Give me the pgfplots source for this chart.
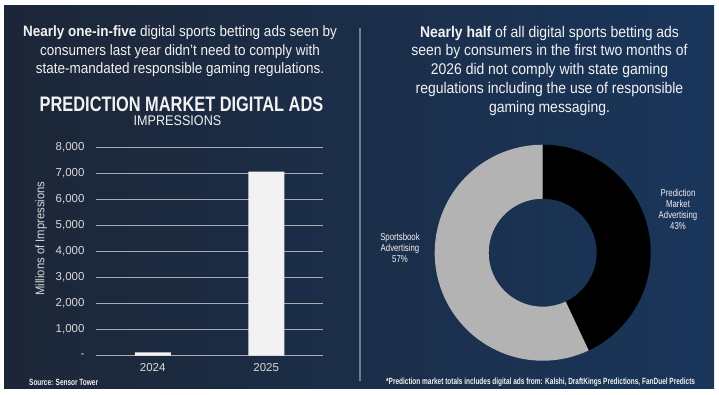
\documentclass[border=0pt]{standalone}
\usepackage{pgfplots}
\pgfplotsset{compat=1.18}
\usepackage{pgfplotstable}
\usepackage{fontspec}
\setmainfont{Liberation Sans}
\newfontfamily\bodyf[FakeStretch=0.9]{Liberation Sans}
\newfontfamily\condf[FakeStretch=0.78]{Liberation Sans}
\newfontfamily\footf[FakeStretch=0.72]{Liberation Sans}

\definecolor{bgL}{HTML}{1C2637}
\definecolor{bgR}{HTML}{1A365B}
\definecolor{txt}{HTML}{F2F2F2}
\definecolor{tickc}{HTML}{D9D9D9}
\definecolor{gridc}{HTML}{A8ACB0}
\definecolor{divl}{HTML}{6E7F96}
\definecolor{pgray}{HTML}{B3B3B3}

\pgfplotstableread{
year value
0 130
1 7080
}\bardata

\pgfplotstableread{
segment share
Prediction 43
Sportsbook 57
}\donutdata

\begin{document}
\begin{tikzpicture}
\fill[white] (0,0) rectangle (719bp,395bp);
\shade[left color=bgL, right color=bgR] (4bp,6bp) rectangle (714bp,389bp);
\draw[divl, line width=1.5bp] (360bp,14bp) -- (360bp,367bp);

\node[align=center, text=txt, font=\fontsize{15bp}{18.5bp}\bodyf] at (180bp,343.5bp)
 {{\bfseries Nearly one-in-five} digital sports betting ads seen by\\ consumers last year didn’t need to comply with\\ state-mandated responsible gaming regulations.};

\node[align=center, text=txt, font=\fontsize{15.5bp}{18.75bp}\bodyf] at (549.5bp,324.5bp)
 {{\bfseries Nearly half} of all digital sports betting ads\\ seen by consumers in the first two months of\\ 2026 did not comply with state gaming\\ regulations including the use of responsible\\ gaming messaging.};

\node[text=txt, font=\fontsize{21bp}{21bp}\condf\bfseries] at (181.5bp,290.5bp) {PREDICTION MARKET DIGITAL ADS};
\node[text=txt, font=\fontsize{14bp}{14bp}\bodyf] at (177.5bp,274bp) {IMPRESSIONS};

\begin{axis}[at={(96bp,39.3bp)}, anchor=south west, scale only axis,
  width=227bp, height=208bp,
  xmin=-0.5, xmax=1.5, ymin=0, ymax=8000,
  xtick={0,1}, xticklabels={2024,2025},
  ytick={0,1000,...,8000},
  yticklabels={-,{1,000},{2,000},{3,000},{4,000},{5,000},{6,000},{7,000},{8,000}},
  ymajorgrids, grid style={gridc, line width=1.2bp},
  axis line style={draw=none}, major tick length=0pt,
  /pgf/number format/assume math mode=true,
  tick label style={text=tickc, font=\fontsize{11.5bp}{11.5bp}\selectfont},
  yticklabel style={xshift=-8bp},
  xticklabel style={yshift=-4bp},
  ylabel={Millions of Impressions},
  every axis y label/.style={at={(axis description cs:-0.242,0.563)}, rotate=90, anchor=center,
     text=tickc, font=\fontsize{12.5bp}{12.5bp}\bodyf},
  ybar, bar width=36bp]
\addplot[fill=txt, draw=none] table[x=year,y=value]{\bardata};
\end{axis}

\pgfplotstablegetelem{0}{share}\of\donutdata
\pgfmathsetmacro{\pa}{\pgfplotsretval}
\pgfmathsetmacro{\endang}{90-3.6*\pa}
\begin{axis}[at={(542.7bp,142.3bp)}, anchor=center, scale only axis,
  width=216bp, height=216bp, xmin=-1, xmax=1, ymin=-1, ymax=1, hide axis, clip=false]
\fill[black, shift={(axis cs:0,0)}] (90:108bp) arc[start angle=90, end angle=\endang, radius=108bp]
   -- (\endang:54bp) arc[start angle=\endang, end angle=90, radius=54bp] -- cycle;
\fill[pgray, shift={(axis cs:0,0)}] (\endang:108bp) arc[start angle=\endang, end angle=-270, radius=108bp]
   -- (-270:54bp) arc[start angle=-270, end angle=\endang, radius=54bp] -- cycle;
\end{axis}

\node[align=center, text=txt, font=\fontsize{10bp}{11.1bp}\condf] at (678bp,185.6bp)
 {Prediction\\ Market\\ Advertising\\ 43\%};
\node[align=center, text=txt, font=\fontsize{10bp}{11.1bp}\condf] at (400bp,147.1bp)
 {Sportsbook\\ Advertising\\ 57\%};

\node[anchor=west, text=txt, font=\fontsize{9bp}{9bp}\footf\bfseries, inner sep=0pt] at (29bp,13bp) {Source: Sensor Tower};
\node[anchor=west, text=txt, font=\fontsize{9bp}{9bp}\footf\bfseries, inner sep=0pt] at (386bp,13bp)
 {*Prediction market totals includes digital ads from: Kalshi, DraftKings Predictions, FanDuel Predicts};
\end{tikzpicture}
\end{document}
